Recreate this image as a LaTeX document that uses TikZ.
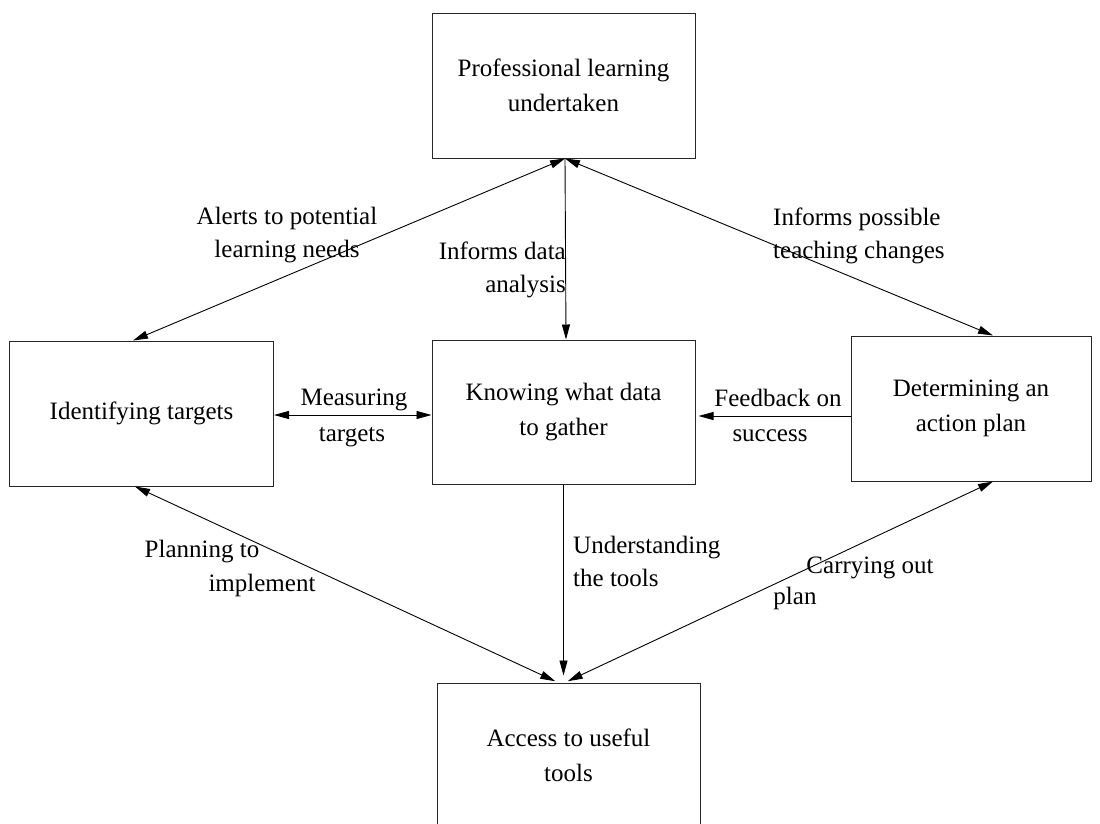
\documentclass[tikz,border=0pt]{standalone}
\usepackage{fontspec}
\setmainfont{Liberation Serif}
\usetikzlibrary{arrows.meta,calc}
\begin{document}
\begin{tikzpicture}[x=1pt,y=-1pt,
  box/.style={draw=black!85,line width=1pt,minimum width=263pt,minimum height=145pt,align=center,inner sep=0pt,font=\fontsize{25}{35}\selectfont},
  lbl/.style={font=\fontsize{25}{33}\selectfont,inner sep=0pt},
  tip/.tip={Triangle[length=15pt,width=8pt]},
  conn/.style={line width=0.9pt,-tip},
  bi/.style={line width=0.9pt,tip-tip}]
\useasboundingbox (0,0) rectangle (1100,823);
\clip (0,0) rectangle (1100,823);
% boxes
\node[box] (top) at (563.5,85.5) {Professional learning\\undertaken};
\node[box,minimum width=264pt] (left) at (141.5,413.5) {Identifying targets};
\node[box,minimum height=144pt] (center) at (563.5,412) {Knowing what data\\to gather};
\node[box,minimum width=240pt] (right) at (971,408.5) {Determining an\\action plan};
\node[box] (bottom) at (568.5,755.5) {Access to useful\\tools};
% anchor points
\coordinate (tS) at ($(top.south)+(1.5,0)$);
\coordinate (lN) at ($(left.north)+(-8.5,0)$);
\coordinate (cN) at ($(center.north)+(2.5,0)$);
\coordinate (rN) at ($(right.north)+(22,0)$);
\coordinate (lE) at ($(left.east)+(0,1.5)$);
\coordinate (cW) at ($(center.west)+(0,3)$);
\coordinate (cE) at ($(center.east)+(0,4)$);
\coordinate (rW) at ($(right.west)+(0,7.5)$);
\coordinate (cS) at (center.south);
\coordinate (lS) at ($(left.south)+(-6.5,0)$);
\coordinate (rS) at ($(right.south)+(22,0)$);
\coordinate (bNl) at ($(bottom.north)+(-10.5,0)$);
\coordinate (bNc) at ($(bottom.north)+(-5.5,0)$);
\coordinate (bNr) at ($(bottom.north)+(-3.5,0)$);
% connectors
\draw[bi] (tS) -- (lN);
\draw[conn] (tS) -- (cN);
\draw[bi] (tS) -- (rN);
\draw[bi] (lE) -- (cW);
\draw[conn,shorten >=3pt] (rW) -- (cE);
\draw[conn,shorten >=7pt] (cS) -- (cS |- bNc);
\draw[bi,shorten >=3pt] (lS) -- (bNl);
\draw[bi,shorten >=3pt] (rS) -- (bNr);
% labels
\node[lbl,align=center] (l1) at (287,235) {Alerts to potential\\learning needs};
\node[lbl,align=right,anchor=east] (l2) at (566,270) {Informs data\\analysis};
\node[lbl,align=left,anchor=west] (l3) at (773,236) {Informs possible\\teaching changes};
\node[lbl] (l4a) at (354,400) {Measuring};
\node[lbl] (l4b) at (352,437) {targets};
\node[lbl] (l5a) at (778,398) {Feedback on};
\node[lbl] (l5b) at (770,436) {success};
\node[lbl,align=left,anchor=west] (l6) at (573,561) {Understanding\\the tools};
\node[lbl] (l7a) at (202,552) {Planning to};
\node[lbl] (l7b) at (262,585) {implement};
\node[lbl] (l8a) at (870,568) {Carrying out};
\node[lbl] (l8b) at (795,598) {plan};
\end{tikzpicture}
\end{document}
